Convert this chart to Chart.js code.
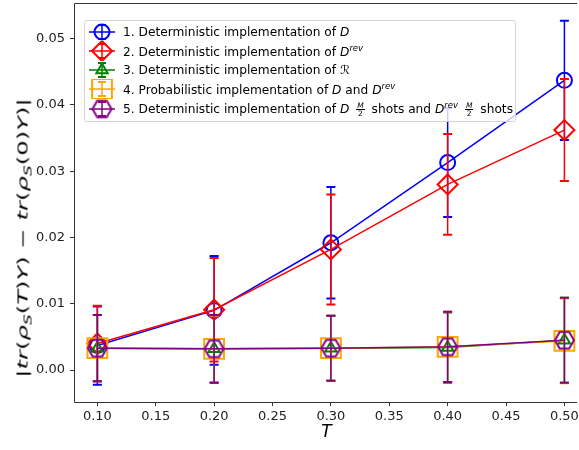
<!DOCTYPE html>
<html lang="en">
<head>
<meta charset="UTF-8">
<title>Implementation error vs T</title>
<script src="https://cdn.jsdelivr.net/npm/chart.js"></script>
<style>
  body { margin: 0; background: #fff; font-family: 'DejaVu Sans', sans-serif; overflow: hidden; }
  #wrap { position: relative; width: 579px; height: 450px; overflow: hidden; }
  #chart { display: block; }
  #ytitle {
    position: absolute; left: 24px; top: 238px;
    font-size: 15px; white-space: nowrap; color: #000;
  }
  #ytitle sub { font-size: 10.5px; vertical-align: -4px; }
  #legend {
    position: absolute; left: 84px; top: 20px; width: 430px; height: 100px;
    border: 1px solid #d4d4d4; border-radius: 3px;
    background: rgba(255, 255, 255, 0.8); font-size: 12.2px; color: #000;
  }
  .row { position: absolute; left: 0; height: 20px; display: flex; align-items: center; white-space: nowrap; }
  .row canvas { margin-left: 2px; margin-right: 6px; }
  .row sup { font-size: 8.5px; font-style: italic; vertical-align: 5px; }
  .frac { display: inline-flex; flex-direction: column; align-items: center; font-size: 7.5px; line-height: 7.5px; margin: 0 3px; vertical-align: middle; }
  .frac i { border-bottom: 0.8px solid #000; padding: 0 1px; }
</style>
</head>
<body>
<div id="wrap">
  <canvas id="chart" width="579" height="450"></canvas>
  <div id="ytitle">|<i>tr</i>(<i>ρ</i><sub><i>S</i></sub>(<i>T</i>)<i>Y</i>) − <i>tr</i>(<i>ρ</i><sub><i>S</i></sub>(0)<i>Y</i>)|</div>
  <div id="legend"></div>
</div>
<script>
  // values
  const tValues = [0.1, 0.2, 0.3, 0.4, 0.5];

  const detD = [0.0037, 0.0090, 0.0192, 0.0313, 0.0437];
  const detDErr = [0.0059, 0.0082, 0.0084, 0.0082, 0.0090];

  const detDrev = [0.0040, 0.0091, 0.0182, 0.0280, 0.0362];
  const detDrevErr = [0.0057, 0.0078, 0.0083, 0.0076, 0.0077];

  const detR = [0.0033, 0.0032, 0.0033, 0.0034, 0.0045];
  const detRErr = [0.0050, 0.0051, 0.0049, 0.0053, 0.0064];

  const probD = [0.0033, 0.0032, 0.0033, 0.0035, 0.0044];
  const probDErr = [0.0050, 0.0050, 0.0049, 0.0053, 0.0064];

  const mixD = [0.0033, 0.0032, 0.0033, 0.0035, 0.0045];
  const mixDErr = [0.0050, 0.0051, 0.0049, 0.0053, 0.0064];

  const xTicks = [0.10, 0.15, 0.20, 0.25, 0.30, 0.35, 0.40, 0.45, 0.50];
  const yTicks = [0.00, 0.01, 0.02, 0.03, 0.04, 0.05];

  const legendLabels = [
    '1. Deterministic implementation of <i>D</i>',
    '2. Deterministic implementation of <i>D</i><sup>rev</sup>',
    '3. Deterministic implementation of ℛ',
    '4. Probabilistic implementation of <i>D</i> and <i>D</i><sup>rev</sup>',
    '5. Deterministic implementation of <i>D</i> <span class="frac"><i>M</i><span>2</span></span> shots and <i>D</i><sup>rev</sup> <span class="frac"><i>M</i><span>2</span></span> shots'
  ];

  // flat-topped hexagon marker (matplotlib "H"), Chart.js has none
  function hexagon(color, r) {
    const c = document.createElement('canvas');
    c.width = c.height = Math.ceil(2 * r + 4);
    const g = c.getContext('2d');
    const m = c.width / 2;
    g.beginPath();
    for (let k = 0; k < 6; k++) {
      const a = Math.PI / 3 * k;
      g.lineTo(m + r * Math.cos(a), m + r * Math.sin(a));
    }
    g.closePath();
    g.strokeStyle = color;
    g.lineWidth = 2;
    g.stroke();
    return c;
  }

  function series(label, values, errors, color, style, radius, order) {
    return {
      label,
      data: tValues.map((t, i) => ({ x: t, y: values[i] })),
      errors,
      borderColor: color,
      backgroundColor: color,
      borderWidth: 1.5,
      pointStyle: style,
      pointRadius: radius,
      pointHoverRadius: radius,
      pointBorderWidth: 2,
      pointBorderColor: color,
      pointBackgroundColor: 'rgba(0,0,0,0)',
      tension: 0,
      order
    };
  }

  const datasets = [
    series('1. Deterministic implementation of D', detD, detDErr, '#0000ff', 'circle', 7.5, 5),
    series('2. Deterministic implementation of Drev', detDrev, detDrevErr, '#ff0000', 'rectRot', 10, 4),
    series('3. Deterministic implementation of R', detR, detRErr, '#008000', 'triangle', 6.5, 3),
    series('4. Probabilistic implementation of D and Drev', probD, probDErr, '#ffa500', 'rect', 14, 2),
    series('5. Deterministic implementation of D M/2 shots and Drev M/2 shots', mixD, mixDErr, '#800080', hexagon('#800080', 9.5), 9.5, 1)
  ];

  // error bars, drawn under each dataset's own line and markers
  const errorBars = {
    id: 'errorBars',
    beforeDatasetDraw(chart, args) {
      const ds = chart.data.datasets[args.index];
      const { ctx, scales: { x, y } } = chart;
      ctx.save();
      ctx.strokeStyle = ds.borderColor;
      ds.data.forEach((p, i) => {
        const px = x.getPixelForValue(p.x);
        const top = y.getPixelForValue(p.y + ds.errors[i]);
        const bot = y.getPixelForValue(p.y - ds.errors[i]);
        ctx.lineWidth = 1.5;
        ctx.beginPath();
        ctx.moveTo(px, top);
        ctx.lineTo(px, bot);
        ctx.stroke();
        ctx.lineWidth = 2;
        ctx.beginPath();
        ctx.moveTo(px - 4.5, top); ctx.lineTo(px + 4.5, top);
        ctx.moveTo(px - 4.5, bot); ctx.lineTo(px + 4.5, bot);
        ctx.stroke();
      });
      ctx.restore();
    }
  };

  // left, top and bottom spines; the right one is outside the picture
  const frame = {
    id: 'frame',
    afterDatasetsDraw(chart) {
      const { ctx, chartArea: a } = chart;
      const l = Math.round(a.left) + 0.5, t = Math.round(a.top) + 0.5, b = Math.round(a.bottom) + 0.5;
      const r = chart.width - 2;
      const segs = [[l, t, r, t], [l, t, l, b], [l, b, r, b]];
      ctx.save();
      ctx.strokeStyle = '#333';
      ctx.lineWidth = 1;
      segs.forEach(([x1, y1, x2, y2]) => {
        ctx.beginPath();
        ctx.moveTo(x1, y1);
        ctx.lineTo(x2, y2);
        ctx.stroke();
      });
      ctx.restore();
    }
  };

  const tickFont = { family: 'DejaVu Sans', size: 13 };

  const chart = new Chart(document.getElementById('chart'), {
    type: 'line',
    data: { datasets },
    options: {
      responsive: false,
      animation: false,
      events: [],
      layout: { autoPadding: false, padding: { left: 0, top: 3, right: 0, bottom: 0 } },
      plugins: { legend: { display: false }, tooltip: { enabled: false } },
      scales: {
        x: {
          type: 'linear',
          min: 0.08,
          max: 0.5125,
          afterBuildTicks: s => { s.ticks = xTicks.map(v => ({ value: v })); },
          afterFit: s => { s.height = 48; s.paddingLeft = 0; s.paddingRight = 0; },
          ticks: { font: tickFont, color: '#222', padding: 3, maxRotation: 0, callback: v => v.toFixed(2) },
          grid: { drawOnChartArea: false, drawTicks: true, tickLength: 4, color: '#333' },
          border: { display: false },
          title: { display: true, text: 'T', font: { family: 'DejaVu Sans', size: 17, style: 'italic' }, color: '#000', padding: { top: 0, bottom: 7 } }
        },
        y: {
          min: -0.00482,
          max: 0.05537,
          afterBuildTicks: s => { s.ticks = yTicks.map(v => ({ value: v })); },
          afterFit: s => { s.width = 74; s.paddingTop = 0; s.paddingBottom = 0; },
          ticks: { font: tickFont, color: '#222', padding: 5, callback: v => v.toFixed(2) },
          grid: { drawOnChartArea: false, drawTicks: true, tickLength: 4, color: '#333' },
          border: { display: false }
        }
      }
    },
    plugins: [errorBars, frame]
  });

  // y title: the original label is stretched along its length to about 280px
  const ytitle = document.getElementById('ytitle');
  const k = 280 / ytitle.offsetWidth;
  ytitle.style.transform = 'translate(-50%, -50%) rotate(-90deg) scale(' + k + ', 0.95)';

  // legend inside the plot, built from the datasets
  const legend = document.getElementById('legend');
  const rowTops = [0.5, 19.5, 38.5, 57.5, 78];
  datasets.forEach((ds, i) => {
    const row = document.createElement('div');
    row.className = 'row';
    row.style.top = rowTops[i] + 'px';
    const c = document.createElement('canvas');
    c.width = 30; c.height = 20;
    const g = c.getContext('2d');
    g.strokeStyle = ds.borderColor;
    g.fillStyle = 'rgba(0,0,0,0)';
    g.lineWidth = 1.5;
    g.beginPath();
    g.moveTo(2, 10); g.lineTo(28, 10);
    g.moveTo(15, 3); g.lineTo(15, 17);
    g.stroke();
    g.lineWidth = 2;
    g.beginPath();
    g.moveTo(11, 3); g.lineTo(19, 3);
    g.moveTo(11, 17); g.lineTo(19, 17);
    g.stroke();
    Chart.helpers.drawPoint(g, {
      pointStyle: ds.pointStyle, radius: ds.pointRadius, borderWidth: 2, rotation: 0
    }, 15, 10);
    row.appendChild(c);
    const span = document.createElement('span');
    span.innerHTML = legendLabels[i];
    row.appendChild(span);
    legend.appendChild(row);
  });
</script>
</body>
</html>
